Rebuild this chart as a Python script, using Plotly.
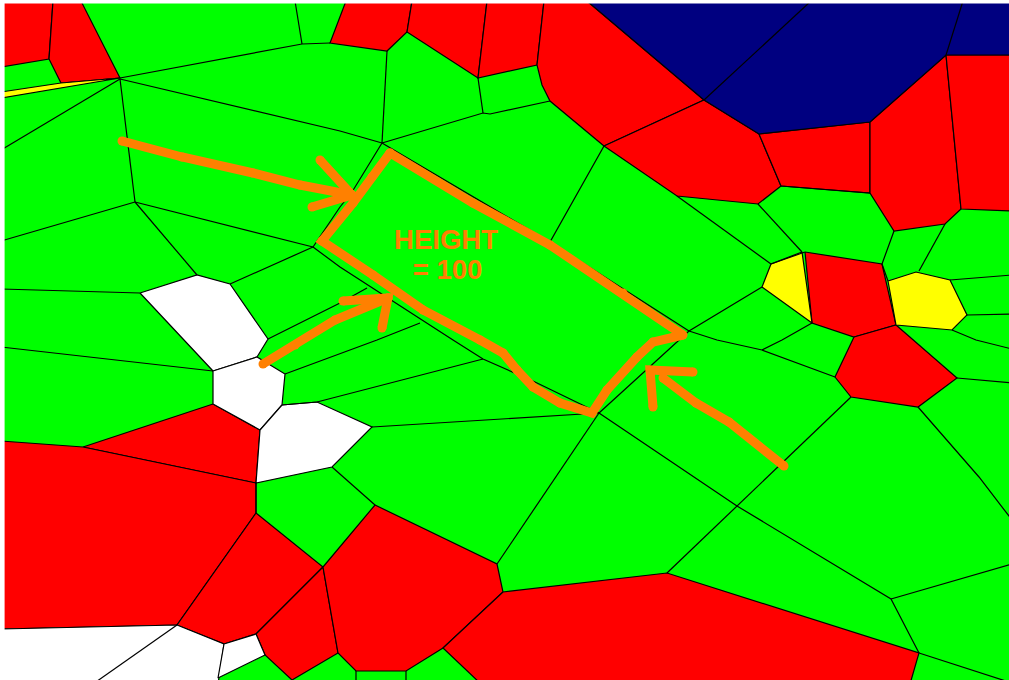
import plotly.graph_objects as go

# Map extent and fill colours
GREEN_COLOR = "#00ff00"
RED_COLOR = "#ff0000"
NAVY_COLOR = "#000080"
YELLOW_COLOR = "#ffff00"
WHITE_COLOR = "#ffffff"
ORANGE_COLOR = "#ff8000"

green_area = [(4, 3), (1012, 3), (1012, 684), (4, 684)]
margin_strips = [
    [(0, 0), (4, 0), (4, 684), (0, 684)],
    [(0, 0), (1012, 0), (1012, 3), (0, 3)],
]

red_cells = [
    [(1, 1), (53, 1), (49, 59), (1, 67)],
    [(53, 1), (81, 1), (120, 78), (61, 83), (49, 59)],
    [(346, 1), (412, 1), (407, 32), (387, 51), (330, 43)],
    [(412, 1), (487, 1), (478, 78), (407, 32)],
    [(487, 1), (544, 1), (537, 65), (478, 78)],
    [(544, 1), (587, 1), (704, 100), (604, 146), (550, 101), (542, 85), (537, 65)],
    [(604, 146), (704, 100), (759, 134), (781, 186), (758, 204), (677, 196)],
    [(759, 134), (870, 122), (870, 193), (781, 186)],
    [(870, 122), (946, 55), (961, 209), (945, 224), (894, 231), (870, 193)],
    [(946, 55), (1012, 55), (1012, 211), (961, 209)],
    [(805, 252), (882, 264), (896, 325), (854, 337), (812, 323)],
    [(854, 337), (896, 325), (957, 378), (918, 407), (851, 397), (835, 377)],
    [(213, 404), (260, 430), (256, 483), (83, 447)],
    [(1, 441), (83, 447), (256, 483), (256, 513), (177, 625), (1, 629)],
    [(256, 513), (323, 567), (256, 634), (224, 644), (177, 625)],
    [(323, 567), (338, 653), (292, 680), (265, 655), (256, 634)],
    [(323, 567), (375, 505), (497, 564), (503, 592), (443, 648), (406, 671), (356, 671), (338, 653)],
    [(503, 592), (667, 573), (919, 653), (910, 684), (481, 684), (443, 648)],
]

navy_cells = [
    [(587, 1), (1012, 1), (1012, 55), (946, 55), (870, 122), (759, 134), (704, 100)],
]

yellow_cells = [
    [(1, 92), (61, 83), (120, 78), (1, 98)],
    [(802, 252), (812, 323), (762, 287), (771, 264)],
    [(888, 281), (916, 272), (950, 280), (967, 315), (952, 330), (896, 325)],
]

white_cells = [
    [(140, 293), (197, 275), (230, 284), (268, 339), (257, 357), (213, 371)],
    [(213, 371), (257, 357), (285, 374), (282, 405), (260, 430), (213, 404)],
    [(282, 405), (317, 402), (372, 427), (332, 467), (256, 483), (260, 430)],
    [(1, 629), (177, 625), (224, 644), (218, 684), (1, 684)],
    [(224, 644), (256, 634), (265, 655), (218, 678)],
]

border_lines = [
    [(120, 79), (57, 117), (1, 150)],
    [(120, 78), (302, 44), (330, 43)],
    [(295, 1), (302, 44)],
    [(120, 79), (340, 131), (382, 143)],
    [(120, 79), (135, 202)],
    [(135, 202), (1, 241)],
    [(135, 202), (313, 247)],
    [(135, 202), (197, 275)],
    [(230, 284), (313, 247)],
    [(1, 289), (140, 293)],
    [(1, 347), (213, 371)],
    [(382, 143), (387, 51)],
    [(382, 143), (483, 113), (490, 114), (550, 101)],
    [(478, 78), (483, 113)],
    [(382, 143), (352, 192), (340, 207), (313, 247)],
    [(382, 143), (550, 242), (689, 331)],
    [(604, 146), (550, 242)],
    [(677, 196), (771, 264)],
    [(758, 204), (802, 252)],
    [(781, 186), (870, 193)],
    [(771, 264), (805, 252)],
    [(894, 231), (882, 264), (888, 281)],
    [(945, 224), (919, 271)],
    [(950, 280), (1012, 275)],
    [(967, 315), (1012, 314)],
    [(952, 330), (976, 340), (1012, 349)],
    [(957, 378), (1012, 383)],
    [(918, 407), (979, 477), (1012, 520)],
    [(851, 397), (737, 506), (667, 573)],
    [(599, 413), (689, 331), (762, 287)],
    [(689, 331), (717, 340), (762, 350), (835, 377)],
    [(762, 350), (782, 340), (812, 323)],
    [(599, 413), (737, 506), (891, 599), (919, 653)],
    [(891, 599), (1012, 564)],
    [(919, 653), (1012, 683)],
    [(599, 413), (497, 564)],
    [(372, 427), (599, 413)],
    [(332, 467), (375, 505)],
    [(256, 483), (256, 513)],
    [(285, 374), (377, 340), (420, 323)],
    [(282, 405), (317, 402), (483, 359)],
    [(313, 247), (340, 267), (453, 340), (483, 359), (535, 382), (582, 405), (599, 413)],
    [(268, 339), (340, 303), (367, 288)],
    [(704, 100), (811, 1)],
    [(946, 55), (963, 1)],
    [(177, 625), (93, 684)],
    [(356, 671), (356, 684)],
    [(406, 671), (406, 684)],
]

orange_strokes = [
    [(122, 141), (182, 157), (253, 173), (300, 185), (352, 195)],
    [(320, 160), (352, 195), (312, 207)],
    [(390, 153), (473, 203), (550, 245), (623, 293), (683, 335), (653, 342),
     (637, 357), (607, 390), (592, 413), (560, 403), (533, 387), (517, 370), (503, 353), (480, 340),
     (423, 310), (373, 275), (322, 241), (353, 203), (372, 177), (390, 153)],
    [(263, 364), (295, 345), (335, 320), (388, 298)],
    [(343, 301), (388, 298), (382, 328)],
    [(784, 466), (729, 422), (696, 403), (663, 378)],
    [(693, 372), (650, 370), (653, 407)],
]

label_lines = ["HEIGHT", "= 100"]
label_x = [446, 447.5]
label_y = [242, 272]

fig = go.Figure()


def add_cell(points, color, line_color="#000000"):
    fig.add_trace(go.Scatter(
        x=[p[0] for p in points] + [points[0][0]],
        y=[p[1] for p in points] + [points[0][1]],
        mode="lines", fill="toself", fillcolor=color,
        line=dict(color=line_color, width=1.2), hoverinfo="skip", showlegend=False,
    ))


add_cell(green_area, GREEN_COLOR, GREEN_COLOR)
for cell in red_cells:
    add_cell(cell, RED_COLOR)
for cell in navy_cells:
    add_cell(cell, NAVY_COLOR)
for cell in yellow_cells:
    add_cell(cell, YELLOW_COLOR)
for cell in white_cells:
    add_cell(cell, WHITE_COLOR)

for seg in border_lines:
    fig.add_trace(go.Scatter(
        x=[p[0] for p in seg], y=[p[1] for p in seg], mode="lines",
        line=dict(color="#000000", width=1.2), hoverinfo="skip", showlegend=False,
    ))

for strip in margin_strips:
    add_cell(strip, WHITE_COLOR, WHITE_COLOR)

for seg in orange_strokes:
    fig.add_trace(go.Scatter(
        x=[p[0] for p in seg], y=[p[1] for p in seg], mode="lines+markers",
        line=dict(color=ORANGE_COLOR, width=9),
        marker=dict(color=ORANGE_COLOR, size=9, line=dict(width=0)),
        hoverinfo="skip", showlegend=False,
    ))

fig.add_trace(go.Scatter(
    x=label_x, y=label_y, text=label_lines, mode="text",
    textposition="middle center",
    textfont=dict(family="Liberation Sans", size=27.5, color=ORANGE_COLOR, weight="bold"),
    hoverinfo="skip", showlegend=False,
))

fig.update_layout(
    width=1009, height=680, margin=dict(l=0, r=0, t=0, b=0),
    paper_bgcolor="#ffffff", plot_bgcolor="#ffffff",
    xaxis=dict(range=[0, 1009], visible=False, fixedrange=True),
    yaxis=dict(range=[680, 0], visible=False, fixedrange=True),
)
fig.write_html("out.html", config={"displayModeBar": False},
               post_script="document.body.style.margin='0';document.body.style.overflow='hidden';")
